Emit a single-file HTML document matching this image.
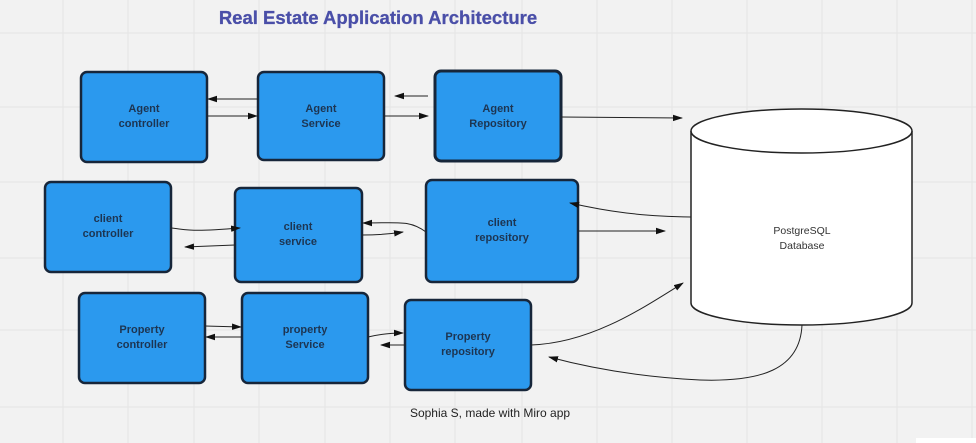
<!DOCTYPE html>
<html><head><style>
body{margin:0;width:976px;height:443px;background:#f2f2f2;overflow:hidden;font-family:"Liberation Sans",sans-serif;}
svg{display:block}
</style></head><body>
<svg width="976" height="443" viewBox="0 0 976 443" xmlns="http://www.w3.org/2000/svg">
<defs>
<marker id="a" markerWidth="10" markerHeight="8" refX="9" refY="4" orient="auto" markerUnits="userSpaceOnUse">
<path d="M0,0.8 L10,4 L0,7.2 Z" fill="#111"/></marker>
</defs>
<g stroke="#e4e4e4" stroke-width="1">
<line x1="63" y1="0" x2="63" y2="443"/><line x1="128" y1="0" x2="128" y2="443"/><line x1="194" y1="0" x2="194" y2="443"/><line x1="259" y1="0" x2="259" y2="443"/><line x1="325" y1="0" x2="325" y2="443"/><line x1="390" y1="0" x2="390" y2="443"/><line x1="455" y1="0" x2="455" y2="443"/><line x1="522" y1="0" x2="522" y2="443"/><line x1="597" y1="0" x2="597" y2="443"/><line x1="672" y1="0" x2="672" y2="443"/><line x1="747" y1="0" x2="747" y2="443"/><line x1="822" y1="0" x2="822" y2="443"/><line x1="897" y1="0" x2="897" y2="443"/><line x1="972" y1="0" x2="972" y2="443"/>
<line x1="0" y1="33" x2="976" y2="33"/><line x1="0" y1="107" x2="976" y2="107"/><line x1="0" y1="182" x2="976" y2="182"/><line x1="0" y1="258" x2="976" y2="258"/><line x1="0" y1="330" x2="976" y2="330"/><line x1="0" y1="407" x2="976" y2="407"/>
</g>
<text x="378" y="24" text-anchor="middle" font-size="18.5" font-weight="bold" fill="#4a4fa8" stroke="#4a4fa8" stroke-width="0.3">Real Estate Application  Architecture</text>
<g fill="#2b99ee" stroke="#17263a" stroke-width="2.5">
<rect x="81" y="72" width="126" height="90" rx="6"/>
<rect x="258" y="72" width="126" height="88" rx="6"/>
<rect x="435" y="71" width="126" height="90" rx="6" stroke-width="3"/>
<rect x="45" y="182" width="126" height="90" rx="6"/>
<rect x="235" y="188" width="127" height="94" rx="6"/>
<rect x="426" y="180" width="152" height="102" rx="6"/>
<rect x="79" y="293" width="126" height="90" rx="6"/>
<rect x="242" y="293" width="126" height="90" rx="6"/>
<rect x="405" y="300" width="126" height="90" rx="6"/>
</g>
<g font-size="11" font-weight="bold" fill="#1d3552" text-anchor="middle">
<text x="144" y="112">Agent</text><text x="144" y="127">controller</text>
<text x="321" y="112">Agent</text><text x="321" y="127">Service</text>
<text x="498" y="112">Agent</text><text x="498" y="127">Repository</text>
<text x="108" y="222">client</text><text x="108" y="237">controller</text>
<text x="298" y="230">client</text><text x="298" y="245">service</text>
<text x="502" y="226">client</text><text x="502" y="241">repository</text>
<text x="142" y="333">Property</text><text x="142" y="348">controller</text>
<text x="305" y="333">property</text><text x="305" y="348">Service</text>
<text x="468" y="340">Property</text><text x="468" y="355">repository</text>
</g>
<path d="M691,131 L691,303 A110.5,22 0 0 0 912,303 L912,131" fill="#fff" stroke="#222" stroke-width="1.5"/>
<ellipse cx="801.5" cy="131" rx="110.5" ry="22" fill="#fff" stroke="#222" stroke-width="1.5"/>
<text x="802" y="234" text-anchor="middle" font-size="10.5" fill="#333">PostgreSQL</text>
<text x="802" y="249" text-anchor="middle" font-size="10.5" fill="#333">Database</text>
<g stroke="#222" stroke-width="1" fill="none" marker-end="url(#a)">
<path d="M258,99 L208,99"/><path d="M207,116 L257,116"/>
<path d="M428,96 L395,96"/><path d="M384,116 L428,116"/>
<path d="M561,117 L682,118"/>
<path d="M171,228 C190,230 190,232 240,228"/><path d="M235,245 L185,247"/>
<path d="M426,232 C410,220 400,223 363,223"/><path d="M362,235 C380,235 390,234 403,232"/>
<path d="M691,217 C640,216 610,212 570,203"/><path d="M578,231 L665,231"/>
<path d="M205,326 L241,327"/><path d="M242,337 L206,337"/>
<path d="M368,337 C380,334 390,333 403,333"/><path d="M405,345 L381,345"/>
<path d="M531,345 C590,343 640,310 683,283"/>
<path d="M802,325 C800,370 760,382 700,380 C640,377 590,368 549,357"/>
</g>
<text x="490" y="417" text-anchor="middle" font-size="12" fill="#222">Sophia S,  made with Miro app</text>
<rect x="916" y="438" width="60" height="5" fill="#fff"/>
</svg>
</body></html>
